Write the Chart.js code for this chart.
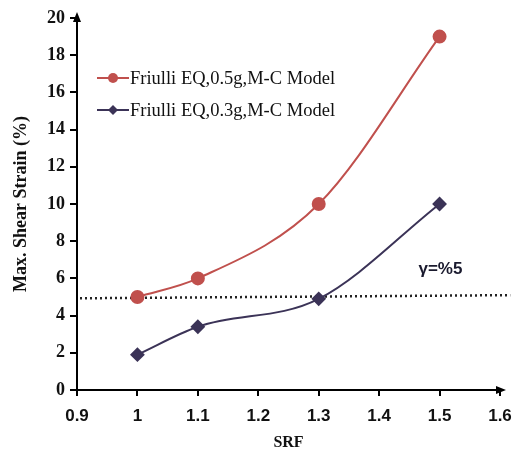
<!DOCTYPE html>
<html>
<head>
<meta charset="utf-8">
<script src="https://cdn.jsdelivr.net/npm/chart.js@4"></script>
<style>
  html, body { margin: 0; padding: 0; background: #fff; }
  #wrap { width: 514px; height: 455px; }
</style>
</head>
<body>
<div id="wrap"><canvas id="chart" width="514" height="455"></canvas></div>
<script>
const srf = [1, 1.1, 1.3, 1.5]
const strain05 = [5, 6, 10, 19]
const strain03 = [1.9, 3.4, 4.9, 10]
const limitX = [0.905, 1.617]
const limitY = [4.93, 5.1]
const xTicks = [0.9, 1, 1.1, 1.2, 1.3, 1.4, 1.5, 1.6]
const yTicks = [0, 2, 4, 6, 8, 10, 12, 14, 16, 18, 20]
const seriesNames = ['Friulli EQ,0.5g,M-C Model', 'Friulli EQ,0.3g,M-C Model']
const limitLabel = 'γ=%5'

const red = '#C0504D'
const navy = '#3B3357'

// legend, arrows and the γ label drawn on top
const extras = {
  id: 'extras',
  afterDraw(chart) {
    const ctx = chart.ctx
    const a = chart.chartArea
    const xs = chart.scales.x, ys = chart.scales.y
    ctx.save()
    // axis arrows
    ctx.fillStyle = '#000'
    ctx.beginPath()
    ctx.moveTo(a.left, a.top - 6)
    ctx.lineTo(a.left - 4, a.top + 4)
    ctx.lineTo(a.left + 4, a.top + 4)
    ctx.fill()
    ctx.beginPath()
    ctx.moveTo(a.right + 6, a.bottom)
    ctx.lineTo(a.right - 4, a.bottom - 4)
    ctx.lineTo(a.right - 4, a.bottom + 4)
    ctx.fill()

    // legend
    const items = [
      {c: red, s: 'circle', y: 78},
      {c: navy, s: 'diamond', y: 110}
    ]
    ctx.font = '18.5px "Liberation Serif", "Times New Roman", serif'
    ctx.textBaseline = 'middle'
    items.forEach((it, i) => {
      ctx.strokeStyle = it.c
      ctx.lineWidth = 2
      ctx.beginPath()
      ctx.moveTo(97, it.y)
      ctx.lineTo(129, it.y)
      ctx.stroke()
      ctx.fillStyle = it.c
      ctx.beginPath()
      if (it.s === 'circle') {
        ctx.arc(113, it.y, 5, 0, Math.PI * 2)
      } else {
        ctx.moveTo(113, it.y - 5)
        ctx.lineTo(118, it.y)
        ctx.lineTo(113, it.y + 5)
        ctx.lineTo(108, it.y)
        ctx.closePath()
      }
      ctx.fill()
      ctx.fillStyle = '#111'
      ctx.fillText(seriesNames[i], 130, it.y + 1)
    })

    // limit label
    ctx.font = 'bold 17px "Liberation Sans", Arial, sans-serif'
    ctx.fillStyle = '#1a1a2e'
    ctx.textAlign = 'left'
    ctx.fillText(limitLabel, xs.getPixelForValue(1.465), ys.getPixelForValue(6.5))
    ctx.restore()
  }
}

new Chart(document.getElementById('chart'), {
  type: 'scatter',
  data: {
    datasets: [
      {
        label: seriesNames[0],
        data: srf.map((x, i) => ({x: x, y: strain05[i]})),
        showLine: true,
        borderColor: red,
        backgroundColor: red,
        borderWidth: 2,
        pointStyle: 'circle',
        pointRadius: 6,
        cubicInterpolationMode: 'monotone'
      },
      {
        label: seriesNames[1],
        data: srf.map((x, i) => ({x: x, y: strain03[i]})),
        showLine: true,
        borderColor: navy,
        backgroundColor: navy,
        borderWidth: 2,
        pointStyle: 'rectRot',
        pointRadius: 6,
        cubicInterpolationMode: 'monotone'
      },
      {
        label: 'limit',
        data: limitX.map((x, i) => ({x: x, y: limitY[i]})),
        showLine: true,
        borderColor: '#222',
        borderWidth: 2.5,
        borderDash: [2, 3],
        pointRadius: 0,
        clip: false
      }
    ]
  },
  options: {
    responsive: false,
    animation: false,
    layout: {padding: {top: 18, right: 0, left: 0, bottom: 0}},
    plugins: {legend: {display: false}, tooltip: {enabled: false}},
    scales: {
      x: {
        type: 'linear',
        min: 0.9,
        max: 1.6,
        afterBuildTicks: s => { s.ticks = xTicks.map(v => ({value: v})) },
        afterFit: s => { s.height = 65; s.paddingRight = 14; s.paddingLeft = 0 },
        grid: {drawOnChartArea: false, tickLength: 6, color: '#000', lineWidth: 2},
        border: {color: '#000', width: 2},
        ticks: {
          color: '#111',
          padding: 10,
          font: {family: '"Liberation Sans", Arial, sans-serif', size: 17, weight: 'bold'},
          callback: v => String(v)
        },
        title: {
          display: true,
          text: 'SRF',
          color: '#111',
          padding: {top: 0, bottom: 3},
          font: {family: '"Liberation Serif", "Times New Roman", serif', size: 16, weight: 'bold'}
        }
      },
      y: {
        min: 0,
        max: 20,
        afterBuildTicks: s => { s.ticks = yTicks.map(v => ({value: v})) },
        afterFit: s => { s.width = 77; s.paddingTop = 0; s.paddingBottom = 0 },
        grid: {drawOnChartArea: false, tickLength: 7, color: '#000', lineWidth: 2},
        border: {color: '#000', width: 2},
        ticks: {
          color: '#111',
          padding: 5,
          font: {family: '"Liberation Serif", "Times New Roman", serif', size: 18, weight: 'bold'}
        },
        title: {
          display: true,
          text: 'Max. Shear Strain (%)',
          color: '#111',
          padding: {top: 11, bottom: 0},
          font: {family: '"Liberation Serif", "Times New Roman", serif', size: 18, weight: 'bold'}
        }
      }
    }
  },
  plugins: [extras]
})
</script>
</body>
</html>
